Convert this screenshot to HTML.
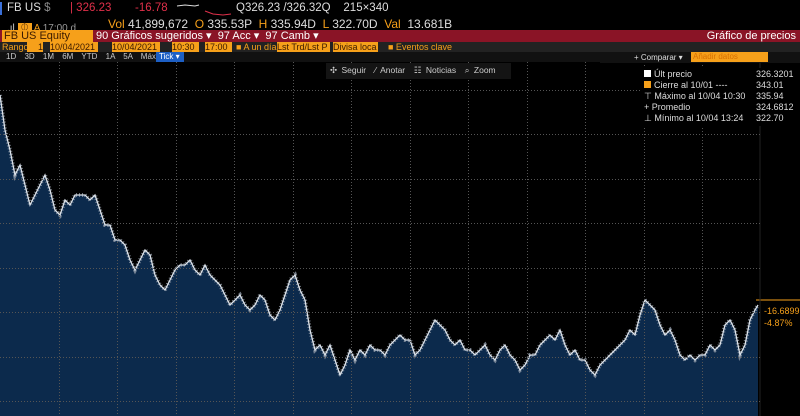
<!DOCTYPE html>
<html><head><meta charset="utf-8"><style>
*{margin:0;padding:0;box-sizing:border-box}
body{width:800px;height:416px;background:#000;overflow:hidden;font-family:"Liberation Sans",sans-serif;color:#ddd;position:relative}
.a{position:absolute;white-space:nowrap}
.o{background:#f6a01a;color:#3a1a00}
.h{position:absolute;left:0;width:760px;height:1px;background:repeating-linear-gradient(90deg,#555 0 1px,transparent 1px 3px)}
.v{position:absolute;top:62px;height:354px;width:1px;background:repeating-linear-gradient(180deg,#555 0 1px,transparent 1px 3px)}
</style></head><body>
<div class="a" style="left:0;top:2px;width:2px;height:13px;background:#3a6fd8"></div>
<div class="a" style="left:7px;top:2px;font-size:11.5px;color:#ddd">FB US <span style="color:#888">$</span></div>
<div class="a" style="left:70px;top:2px;font-size:11.5px;color:#e0304a">| 326.23</div>
<div class="a" style="left:135px;top:2px;font-size:11.5px;color:#e0304a">-16.78</div>
<svg class="a" style="left:175px;top:3px" width="60" height="14"><path d="M2 3 L10 2 L20 3 L24 2" stroke="#ddd" fill="none"/><path d="M30 8 L38 11 L48 12 L56 11" stroke="#e0304a" fill="none"/></svg>
<div class="a" style="left:236px;top:2px;font-size:11.5px;color:#ddd">Q326.23 /326.32Q &nbsp;&nbsp; 215×340</div>
<div class="a" style="left:7px;top:19px;font-size:10px;color:#ccc"><span>.ıl</span> <span class="o" style="padding:0 2px">⏀</span> <span style="color:#f6a01a">A</span> <span style="color:#999">17:00 d</span></div>
<div class="a" style="left:108px;top:17px;font-size:12px;color:#ddd"><span style="color:#f6a01a">Vol</span> 41,899,672 &nbsp;<span style="color:#f6a01a">O</span> 335.53P &nbsp;<span style="color:#f6a01a">H</span> 335.94D &nbsp;<span style="color:#f6a01a">L</span> 322.70D &nbsp;<span style="color:#f6a01a">Val</span> &nbsp;13.681B</div>
<div class="a" style="left:0;top:30px;width:800px;height:12px;background:#8a1426"></div>
<div class="a o" style="left:2px;top:30px;width:91px;height:12px;font-size:11px;line-height:12px;padding-left:2px">FB US Equity</div>
<div class="a" style="left:96px;top:30px;height:12px;font-size:11px;line-height:12px;color:#fff">90 Gráficos sugeridos ▾ &nbsp;97 Acc ▾ &nbsp;97 Camb ▾</div>
<div class="a" style="right:4px;top:30px;font-size:11px;line-height:12px;color:#fff">Gráfico de precios</div>
<div class="a" style="left:0;top:42px;width:800px;height:10px;background:#222"></div>
<div class="a" style="left:2px;top:42px;font-size:9px;line-height:10px;color:#f6a01a">Rango</div>
<div class="a o" style="left:27px;top:42px;width:16px;height:10px;font-size:9px;line-height:10px;text-align:right">1</div>
<div class="a o" style="left:50px;top:42px;width:48px;height:10px;font-size:9px;line-height:10px">10/04/2021</div>
<div class="a o" style="left:112px;top:42px;width:48px;height:10px;font-size:9px;line-height:10px">10/04/2021</div>
<div class="a o" style="left:172px;top:42px;width:27px;height:10px;font-size:9px;line-height:10px">10:30</div>
<div class="a o" style="left:205px;top:42px;width:27px;height:10px;font-size:9px;line-height:10px">17:00</div>
<div class="a" style="left:236px;top:42px;font-size:9px;line-height:10px;color:#f6a01a">■ A un día</div>
<div class="a o" style="left:277px;top:42px;width:53px;height:10px;font-size:9px;line-height:10px">Lst Trd/Lst P</div>
<div class="a o" style="left:333px;top:42px;width:45px;height:10px;font-size:9px;line-height:10px">Divisa loca</div>
<div class="a" style="left:388px;top:42px;font-size:9px;line-height:10px;color:#f6a01a">■ Eventos clave</div>
<div class="a" style="left:0;top:52px;width:800px;height:10px;background:#111"></div>
<div class="a" style="left:6px;top:52px;font-size:8px;line-height:10px;color:#ccc;word-spacing:6px">1D 3D 1M 6M YTD 1A 5A Máx</div>
<div class="a" style="left:156px;top:52px;width:28px;height:10px;background:#1d5fc4;color:#fff;font-size:8px;line-height:10px;padding-left:3px">Tick ▾</div>
<svg class="a" style="left:0;top:62px" width="800" height="354" viewBox="0 62 800 354">
<path id="p" d="M0 95 L5 130 L10 150 L15 175 L20 165 L25 185 L30 205 L35 195 L40 185 L45 175 L50 190 L55 210 L60 215 L65 200 L70 205 L75 195 L80 195 L85 195 L90 200 L95 195 L100 210 L105 225 L110 225 L115 240 L120 240 L125 245 L130 260 L135 270 L140 260 L145 250 L150 255 L155 275 L160 285 L165 290 L170 280 L175 270 L180 265 L185 265 L190 260 L195 270 L200 275 L205 265 L210 275 L215 280 L220 285 L225 295 L230 305 L235 300 L240 295 L245 305 L250 310 L255 305 L260 295 L265 300 L270 315 L275 320 L280 310 L285 295 L290 280 L295 275 L300 290 L305 300 L310 330 L315 350 L320 345 L325 355 L330 345 L335 360 L340 375 L345 365 L350 350 L355 360 L360 350 L365 355 L370 345 L375 350 L380 350 L385 355 L390 345 L395 340 L400 335 L405 340 L410 340 L415 355 L420 350 L425 340 L430 330 L435 320 L440 325 L445 330 L450 340 L455 345 L460 340 L465 350 L470 350 L475 355 L480 350 L485 345 L490 355 L495 360 L500 350 L505 345 L510 355 L515 360 L520 370 L525 365 L530 355 L535 355 L540 345 L545 340 L550 335 L555 340 L560 330 L565 345 L570 355 L575 350 L580 360 L585 360 L590 370 L595 375 L600 365 L605 360 L610 355 L615 350 L620 345 L625 340 L630 330 L635 335 L640 315 L645 300 L650 305 L655 310 L660 325 L665 335 L670 330 L675 340 L680 355 L685 360 L690 355 L695 360 L700 355 L705 355 L710 345 L715 350 L720 345 L725 325 L730 320 L735 330 L740 355 L745 345 L750 320 L755 310 L758 305"/>
<path d="M0 95 L5 130 L10 150 L15 175 L20 165 L25 185 L30 205 L35 195 L40 185 L45 175 L50 190 L55 210 L60 215 L65 200 L70 205 L75 195 L80 195 L85 195 L90 200 L95 195 L100 210 L105 225 L110 225 L115 240 L120 240 L125 245 L130 260 L135 270 L140 260 L145 250 L150 255 L155 275 L160 285 L165 290 L170 280 L175 270 L180 265 L185 265 L190 260 L195 270 L200 275 L205 265 L210 275 L215 280 L220 285 L225 295 L230 305 L235 300 L240 295 L245 305 L250 310 L255 305 L260 295 L265 300 L270 315 L275 320 L280 310 L285 295 L290 280 L295 275 L300 290 L305 300 L310 330 L315 350 L320 345 L325 355 L330 345 L335 360 L340 375 L345 365 L350 350 L355 360 L360 350 L365 355 L370 345 L375 350 L380 350 L385 355 L390 345 L395 340 L400 335 L405 340 L410 340 L415 355 L420 350 L425 340 L430 330 L435 320 L440 325 L445 330 L450 340 L455 345 L460 340 L465 350 L470 350 L475 355 L480 350 L485 345 L490 355 L495 360 L500 350 L505 345 L510 355 L515 360 L520 370 L525 365 L530 355 L535 355 L540 345 L545 340 L550 335 L555 340 L560 330 L565 345 L570 355 L575 350 L580 360 L585 360 L590 370 L595 375 L600 365 L605 360 L610 355 L615 350 L620 345 L625 340 L630 330 L635 335 L640 315 L645 300 L650 305 L655 310 L660 325 L665 335 L670 330 L675 340 L680 355 L685 360 L690 355 L695 360 L700 355 L705 355 L710 345 L715 350 L720 345 L725 325 L730 320 L735 330 L740 355 L745 345 L750 320 L755 310 L758 305 L758 416 L0 416 Z" fill="#0c2a4c"/>
<use href="#p" stroke="#8e99a6" stroke-width="4" fill="none" stroke-dasharray="1,2" opacity="0.8"/>
<use href="#p" stroke="#dde3ea" stroke-width="1.3" fill="none"/>
<line x1="756" y1="300" x2="800" y2="300" stroke="#f6a01a" stroke-width="1"/>
<line x1="760" y1="62" x2="760" y2="416" stroke="#222"/>
</svg>
<div class="h" style="top:90px"></div><div class="h" style="top:134px"></div><div class="h" style="top:179px"></div><div class="h" style="top:223px"></div><div class="h" style="top:268px"></div><div class="h" style="top:312px"></div><div class="h" style="top:357px"></div><div class="h" style="top:401px"></div>
<div class="v" style="left:59px"></div><div class="v" style="left:117px"></div><div class="v" style="left:176px"></div><div class="v" style="left:234px"></div><div class="v" style="left:293px"></div><div class="v" style="left:351px"></div><div class="v" style="left:410px"></div><div class="v" style="left:468px"></div><div class="v" style="left:527px"></div><div class="v" style="left:585px"></div><div class="v" style="left:644px"></div><div class="v" style="left:702px"></div>
<div class="a" style="left:764px;top:306px;font-size:9px;color:#f6a01a">-16.6899</div>
<div class="a" style="left:764px;top:318px;font-size:9px;color:#f6a01a">-4.87%</div>
<div class="a" style="left:326px;top:63px;width:185px;height:16px;background:#141414"></div>
<div class="a" style="left:330px;top:65px;font-size:8.5px;color:#ccc;word-spacing:2px">✣ Seguir &nbsp;⁄ Anotar &nbsp;☷ Noticias &nbsp;⌕ Zoom</div>
<div class="a" style="left:600px;top:52px;width:200px;height:11px;background:#111"></div>
<div class="a" style="left:634px;top:53px;font-size:8px;color:#ddd">+ Comparar ▾</div>
<div class="a o" style="left:691px;top:52px;width:77px;height:10px;font-size:8px;line-height:10px;color:#d87000;padding-left:2px">Añadir datos</div>
<div class="a" style="left:640px;top:68px;width:155px;height:58px;background:#000"></div>
<div class="a" style="left:644px;top:69px;font-size:9px;line-height:11px;color:#ddd">
<div><span style="display:inline-block;width:7px;height:7px;background:#fff;margin-right:3px"></span>Últ precio<span style="position:absolute;left:112px">326.3201</span></div>
<div><span style="display:inline-block;width:7px;height:7px;background:#f6a01a;margin-right:3px"></span>Cierre al 10/01 ----<span style="position:absolute;left:112px">343.01</span></div>
<div>⊤ Máximo al 10/04 10:30<span style="position:absolute;left:112px">335.94</span></div>
<div>+ Promedio<span style="position:absolute;left:112px">324.6812</span></div>
<div>⊥ Mínimo al 10/04 13:24<span style="position:absolute;left:112px">322.70</span></div>
</div>
</body></html>
